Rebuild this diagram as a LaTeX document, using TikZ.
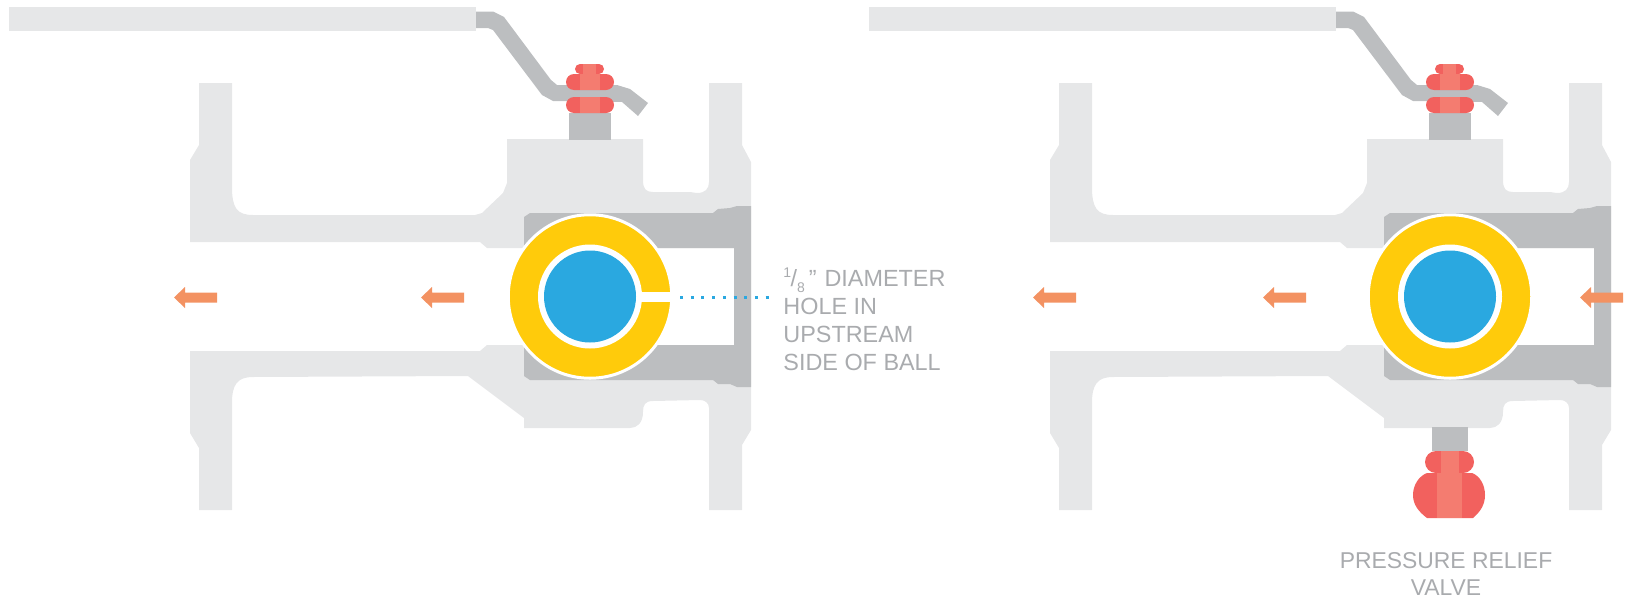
\documentclass[tikz,border=0pt]{standalone}
\usepackage{fontspec}
\setmainfont{Liberation Sans}
\usetikzlibrary{calc,positioning}
\definecolor{okBody}{HTML}{E6E7E8}
\definecolor{okSteel}{HTML}{BCBEC0}
\definecolor{okRed}{HTML}{F2615E}
\definecolor{okSalmon}{HTML}{F47C70}
\definecolor{okYellow}{HTML}{FFCB0B}
\definecolor{okBlue}{HTML}{2AA8E0}
\definecolor{okOrange}{HTML}{F39262}
\definecolor{okText}{HTML}{A9ABAE}
\tikzset{
  bodypart/.style={fill=okBody},
  steelpart/.style={fill=okSteel},
  nutdark/.style={fill=okRed},
  nutlight/.style={fill=okSalmon},
  flowarrow/.style={fill=okOrange},
  ballring/.style={circle, draw=white, fill=okYellow, line width=1.5pt, minimum size=81.75pt, inner sep=0pt},
  ballgap/.style={circle, fill=white, minimum size=52pt, inner sep=0pt},
  ballbore/.style={circle, fill=okBlue, minimum size=46pt, inner sep=0pt},
  holedots/.style={draw=okBlue, line width=1.5pt, dash pattern=on 1.5pt off 3.85pt},
  calloutlabel/.style={font=\fontsize{11.7}{13.9}\selectfont, text=okText, inner sep=0pt},
  relieflabel/.style={font=\fontsize{11.45}{13.5}\selectfont, text=okText, inner sep=0pt},
}

\begin{document}
\begin{tikzpicture}[x=0.5pt,y=-0.5pt]
  \useasboundingbox (0,0) rectangle (1628,600);

  % ── The two valves share everything above the lower stem ──
  \foreach \vx in {0,860} {
    \begin{scope}[xshift=\vx*0.5pt]
      % ── Handle and arm ──
      \fill[bodypart] (9,7) rectangle (476,31);
      \fill[steelpart] (476,11.5) -- (493,11.5) -- (504,17) -- (551,80) -- (557,85) -- (617,85)
        -- (630,89) -- (648,103) -- (638,116) -- (622,102) -- (553,101) -- (542,95)
        -- (493,30) -- (488,28) -- (476,28) -- cycle;

      % ── Body casting, bore left open ──
      \fill[bodypart] (480,242) -- (190,242) -- (190,160) -- (199,145) -- (199,83) -- (232,83)
        -- (232,187) .. controls (232,208) and (237,215) .. (253,215) -- (475,215) -- (482,213)
        -- (503,193) -- (507,183) -- (507,139) -- (643,139) -- (643,180)
        .. controls (643,189) and (646,192) .. (653,192) -- (690,192) -- (697,193)
        .. controls (705,193) and (709,189) .. (709,182) -- (709,83) -- (742,83) -- (742,145)
        -- (751,162) -- (751,430) -- (742,445) -- (742,510) -- (709,510) -- (709,408)
        .. controls (709,403) and (705,400) .. (700,400) -- (653,401)
        .. controls (645,401) and (643,405) .. (643,412)
        .. controls (643,423) and (637,428) .. (630,428) -- (524,428) -- (524,418)
        -- (468,376) -- (253,377) .. controls (237,377) and (232,385) .. (232,403)
        -- (232,510) -- (199,510) -- (199,448) -- (190,433) -- (190,351) -- (480,351)
        -- (487,345) -- (734,345) -- (734,248) -- (487,248) -- cycle;

      % ── Seat ring ──
      \fill[steelpart, even odd rule] (524,217) -- (530,213) -- (713,213) -- (718,209) -- (730,208)
        -- (737,206) -- (751,206) -- (751,387) -- (737,387) -- (730,384) -- (718,384)
        -- (713,380) -- (530,380) -- (524,376) -- cycle
        (524,248) rectangle (734,345);

      % ── Upper stem and nuts ──
      \fill[steelpart] (569,113) rectangle (611,140);
      \fill[nutdark, rounded corners=2.5pt] (575,64) rectangle (604,74);
      \fill[nutdark, rounded corners=4pt] (566,74) rectangle (614,90);
      \fill[nutdark, rounded corners=4pt] (566,97) rectangle (614,113);
      \fill[nutlight] (583,64) rectangle (596,74);
      \fill[nutlight] (580,74) rectangle (600,90);
      \fill[nutlight] (580,97) rectangle (600,113);

      % ── Ball ──
      \node[ballring] (ball\vx) at (590,296.5) {};
      \node[ballgap] (gap\vx) at (ball\vx) {};
    \end{scope}
  }

  % ── Hole in the left ball ──
  \fill[white] (630,292) rectangle (673,302);
  \node[ballbore] (bore0) at (ball0) {};
  \node[ballbore] (bore860) at (ball860) {};

  % ── Lower stem and relief valve (right valve only) ──
  \fill[steelpart] (1432,427) rectangle (1468,451);
  \fill[nutdark, rounded corners=5.5pt] (1425,451) rectangle (1474,473);
  \fill[nutdark] (1427,473) -- (1472,473) .. controls (1480,476) and (1485,485) .. (1485,495)
    .. controls (1485,505) and (1480,512) .. (1473,518) -- (1427,518)
    .. controls (1419,512) and (1413,505) .. (1413,495)
    .. controls (1413,485) and (1419,476) .. (1427,473) -- cycle;
  \fill[nutlight] (1441,451) rectangle (1459,473);
  \fill[nutlight] (1437,473) rectangle (1462,518);

  % ── Flow arrows ──
  \foreach \ax in {174,421,1033,1263,1580} {
    \fill[flowarrow] (\ax,297.5) -- ++(11,-10.5) -- ++(0,5.5) -- ++(32,0) -- ++(0,10)
      -- ++(-32,0) -- ++(0,5.5) -- cycle;
  }

  % ── Callout ──
  \coordinate (dotstart) at (680,297);
  \coordinate (dotend) at (770,297);
  \draw[holedots] (dotstart) -- (dotend);
  \node[calloutlabel, anchor=base west, align=left] (holelabel) at (783,370)
    {\raisebox{4.5pt}{\fontsize{7}{7}\selectfont 1}\kern-0.3pt/\raisebox{-3pt}{\fontsize{7}{7}\selectfont 8}\kern2pt”\kern0.7pt\ DIAMETER\\
     HOLE IN\\UPSTREAM\\SIDE OF BALL};
  \node[relieflabel, anchor=base, align=center] (valvelabel) at (1446,595)
    {PRESSURE RELIEF\\VALVE};
\end{tikzpicture}
\end{document}
